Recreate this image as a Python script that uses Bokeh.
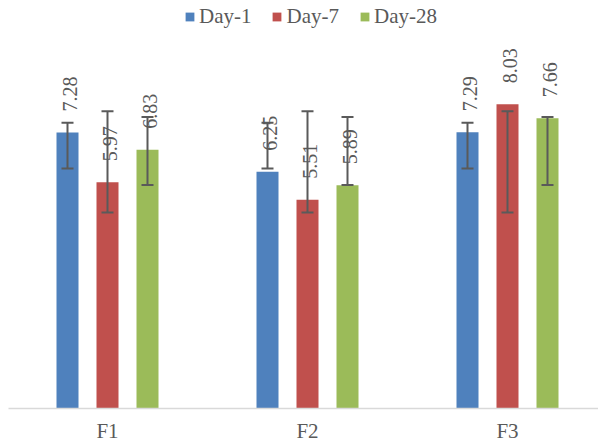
import math
from bokeh.plotting import figure
from bokeh.models import ColumnDataSource, Range1d, FixedTicker, Whisker, TeeHead, Legend, LegendItem
from bokeh.core.properties import value
from bokeh.embed import file_html
from bokeh.resources import INLINE

groups = ["F1", "F2", "F3"]
series = ["Day-1", "Day-7", "Day-28"]
colors = ["#4F81BD", "#C0504D", "#9BBB59"]
day1 = [7.28, 6.25, 7.29]
day7 = [5.97, 5.51, 8.03]
day28 = [6.83, 5.89, 7.66]
# error bar ends
day1_err_low = [6.33, 6.33, 6.33]
day1_err_high = [7.54, 7.54, 7.54]
day7_err_low = [5.17, 5.17, 5.17]
day7_err_high = [7.84, 7.84, 7.84]
day28_err_low = [5.90, 5.90, 5.90]
day28_err_high = [7.69, 7.69, 7.69]

values = [day1, day7, day28]
lows = [day1_err_low, day7_err_low, day28_err_low]
highs = [day1_err_high, day7_err_high, day28_err_high]
offsets = [-0.2, 0.0, 0.2]

FONT = "Times New Roman"
GRAY = "#595959"

p = figure(frame_width=590, frame_height=404, output_backend="svg", toolbar_location=None,
           x_range=Range1d(-0.495, 2.455), y_range=Range1d(0, 10.66),
           min_border_left=8, min_border_right=0, min_border_top=4, min_border_bottom=0)
p.outline_line_color = None
p.grid.visible = False
p.yaxis.visible = False
p.background_fill_color = "white"
p.border_fill_color = "white"

xax = p.xaxis[0]
xax.ticker = FixedTicker(ticks=[0, 1, 2])
xax.major_label_overrides = {0: groups[0], 1: groups[1], 2: groups[2]}
xax.major_tick_line_color = None
xax.minor_tick_line_color = None
xax.major_tick_out = 0
xax.major_tick_in = 0
xax.axis_line_color = "#D9D9D9"
xax.axis_line_width = 1.5
xax.major_label_text_font = FONT
xax.major_label_text_font_size = "21px"
xax.major_label_text_color = GRAY
xax.major_label_standoff = 10

items = []
for i, name in enumerate(series):
    xs = [g + offsets[i] for g in range(len(groups))]
    src = ColumnDataSource(dict(x=xs, top=values[i], lo=lows[i], hi=highs[i],
                                lab=["%.2f" % v for v in values[i]]))
    r = p.vbar(x="x", top="top", width=0.11, bottom=0, source=src,
               fill_color=colors[i], line_color=None)
    items.append(LegendItem(label=name, renderers=[r]))
    w = Whisker(base="x", lower="lo", upper="hi", source=src, dimension="height",
                level="overlay", line_color="#5A5A5A", line_width=2,
                upper_head=TeeHead(size=12, line_color="#5A5A5A", line_width=2),
                lower_head=TeeHead(size=12, line_color="#5A5A5A", line_width=2))
    p.add_layout(w)
    p.text(x="x", y="top", text="lab", source=src, angle=math.pi / 2,
           text_align="left", text_baseline="middle", y_offset=-21, x_offset=2,
           text_font=value(FONT), text_font_size="20px", text_color=GRAY)

legend = Legend(items=items, orientation="horizontal", location=(176, 379),
                glyph_width=11, glyph_height=11, label_standoff=4, spacing=20,
                padding=0, margin=0, border_line_color=None, background_fill_alpha=0,
                label_text_font=FONT, label_text_font_size="21px", label_text_color=GRAY)
p.add_layout(legend)

open("out.html", "w").write(file_html(p, INLINE))
